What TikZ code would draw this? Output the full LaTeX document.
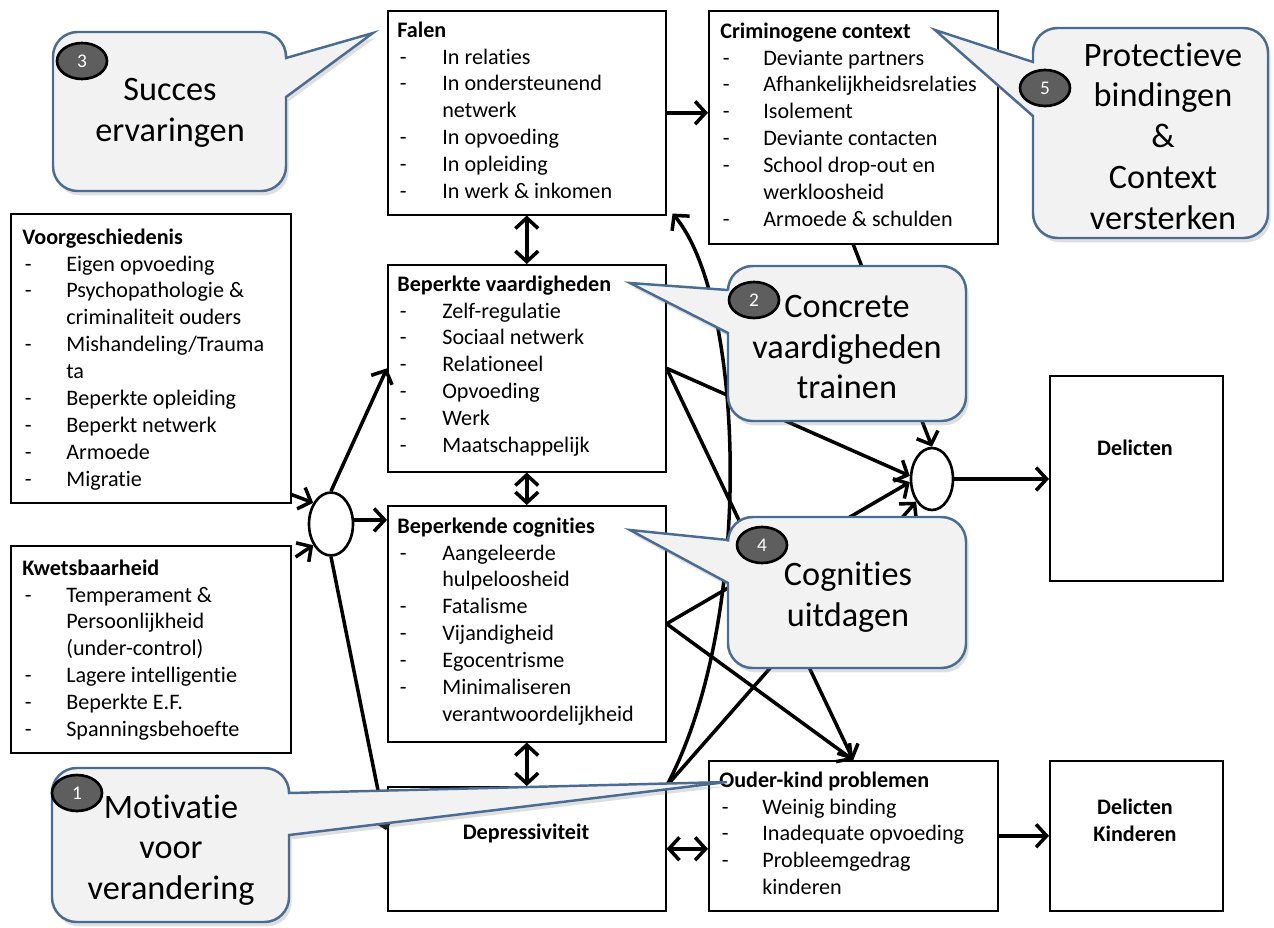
\documentclass[tikz,border=0pt]{standalone}
\usepackage{fontspec}
\setmainfont{Carlito}[Ligatures={NoCommon,NoRequired,NoContextual}]
\usetikzlibrary{arrows.meta,shapes.geometric,shadows,calc}

\definecolor{ballonrand}{HTML}{4A6C94}
\definecolor{ballongrijs}{HTML}{F2F2F2}
\definecolor{nummergrijs}{HTML}{5E5E5E}

\newcommand{\kop}[1]{\multicolumn{2}{@{}l@{}}{\bfseries #1}}
\newcommand{\streep}{\hspace*{1.5pt}-}

\tikzset{
  blok/.style={draw, line width=0.9pt, anchor=north west, inner sep=0pt},
  lijst/.style={anchor=north west, inner sep=0pt, font=\fontsize{12.6}{15.3}\selectfont},
  vet/.style={font=\fontsize{12.6}{15.3}\selectfont\bfseries, align=center, inner sep=0pt},
  kring/.style={draw, ellipse, line width=1.5pt, fill=white, inner sep=0pt},
  pijl/.style={line width=2pt, -{Straight Barb[length=6pt,width=13pt]}},
  dubbel/.style={line width=2pt, {Straight Barb[length=6pt,width=13pt]}-{Straight Barb[length=6pt,width=13pt]}},
  ballon/.style={draw=ballonrand, fill=ballongrijs, line width=1.4pt,
    drop shadow={opacity=0.25, shadow xshift=1.5pt, shadow yshift=-2.5pt}},
  ballontekst/.style={align=center, inner sep=0pt, font=\fontsize{19.5}{23.2}\selectfont},
  nummer/.style={draw, ellipse, line width=1.5pt, fill=nummergrijs, text=white,
    minimum width=1cm, minimum height=0.72cm, inner sep=0pt, font=\fontsize{11}{13}\selectfont},
}

\begin{document}
\begin{tikzpicture}[x=0.02cm, y=-0.02cm]
\useasboundingbox (0,0) rectangle (1274,927);

% blokken
\node[blok, minimum width=5.56cm, minimum height=4.08cm] (falen) at (387,10) {};
\node[lijst] (falentekst) at ($(falen.north west)+(10,8)$) {\begin{tabular}{@{}p{0.9cm}@{}l@{}}
\kop{Falen}\\
\streep & In relaties\\
\streep & In ondersteunend\\
 & netwerk\\
\streep & In opvoeding\\
\streep & In opleiding\\
\streep & In werk \& inkomen
\end{tabular}};

\node[blok, minimum width=5.78cm, minimum height=4.66cm] (crim) at (708,10) {};
\node[lijst] (crimtekst) at ($(crim.north west)+(12,9)$) {\begin{tabular}{@{}p{0.86cm}@{}l@{}}
\kop{Criminogene context}\\
\streep & Deviante partners\\
\streep & Afhankelijkheidsrelaties\\
\streep & Isolement\\
\streep & Deviante contacten\\
\streep & School drop-out en\\
 & werkloosheid\\
\streep & Armoede \& schulden
\end{tabular}};

\node[blok, minimum width=5.6cm, minimum height=5.78cm] (voorg) at (10,213) {};
\node[lijst] (voorgtekst) at ($(voorg.north west)+(12,12)$) {\begin{tabular}{@{}p{0.88cm}@{}l@{}}
\kop{Voorgeschiedenis}\\
\streep & Eigen opvoeding\\
\streep & Psychopathologie \&\\
 & criminaliteit ouders\\
\streep & Mishandeling/Trauma\\
 & ta\\
\streep & Beperkte opleiding\\
\streep & Beperkt netwerk\\
\streep & Armoede\\
\streep & Migratie
\end{tabular}};

\node[blok, minimum width=5.56cm, minimum height=4.14cm] (vaard) at (387,264) {};
\node[lijst] (vaardtekst) at ($(vaard.north west)+(10,8)$) {\begin{tabular}{@{}p{0.9cm}@{}l@{}}
\kop{Beperkte vaardigheden}\\
\streep & Zelf-regulatie\\
\streep & Sociaal netwerk\\
\streep & Relationeel\\
\streep & Opvoeding\\
\streep & Werk\\
\streep & Maatschappelijk
\end{tabular}};

\node[blok, minimum width=5.56cm, minimum height=4.72cm] (cogn) at (387,505) {};
\node[lijst] (cogntekst) at ($(cogn.north west)+(10,9)$) {\begin{tabular}{@{}p{0.9cm}@{}l@{}}
\kop{Beperkende cognities}\\
\streep & Aangeleerde\\
 & hulpeloosheid\\
\streep & Fatalisme\\
\streep & Vijandigheid\\
\streep & Egocentrisme\\
\streep & Minimaliseren\\
 & verantwoordelijkheid
\end{tabular}};

\node[blok, minimum width=5.6cm, minimum height=4.14cm] (kwets) at (10,545) {};
\node[lijst] (kwetstekst) at ($(kwets.north west)+(12,11)$) {\begin{tabular}{@{}p{0.88cm}@{}l@{}}
\kop{Kwetsbaarheid}\\
\streep & Temperament \&\\
 & Persoonlijkheid\\
 & (under-control)\\
\streep & Lagere intelligentie\\
\streep & Beperkte E.F.\\
\streep & Spanningsbehoefte
\end{tabular}};

\node[blok, minimum width=5.56cm, minimum height=2.48cm] (depr) at (387,786) {};
\node[vet] (deprtekst) at (526,833) {Depressiviteit};

\node[blok, minimum width=5.78cm, minimum height=3cm] (ouder) at (708,760) {};
\node[lijst] (oudertekst) at ($(ouder.north west)+(11,8)$) {\begin{tabular}{@{}p{0.86cm}@{}l@{}}
\kop{Ouder-kind problemen}\\
\streep & Weinig binding\\
\streep & Inadequate opvoeding\\
\streep & Probleemgedrag\\
 & kinderen
\end{tabular}};

\node[blok, minimum width=3.46cm, minimum height=4.1cm] (delict) at (1049,375) {};
\node[vet] (delicttekst) at (1135,448) {Delicten};

\node[blok, minimum width=3.46cm, minimum height=3cm] (delkind) at (1049,760) {};
\node[vet] (delkindtekst) at (1135,820) {Delicten\\Kinderen};

% knooppunten
\node[kring, minimum width=0.88cm, minimum height=1.26cm] (links) at (331,524) {};
\node[kring, minimum width=0.84cm, minimum height=1.24cm] (rechts) at (932,479) {};

% pijlen
\draw[pijl] ($(voorg.south east)+(0,-9)$) -- (links.130);
\draw[pijl] ($(kwets.north east)+(4,12)$) -- (links.230);
\draw[pijl] (links.10) -- (links.10 -| cogn.west);
\draw[pijl] (links.north) -- (vaard.west);
\draw[pijl] (links.south) -- ($(depr.north west)+(-1,44)$);
\draw[dubbel] (falen.south) -- (vaard.north);
\draw[dubbel] (vaard.south) -- (cogn.north);
\draw[dubbel] (cogn.south) -- (depr.north);
\draw[dubbel] (depr.east) -- (depr.east -| ouder.west);
\draw[pijl] (falen.east) -- (falen.east -| crim.west);
\draw[pijl] (crim.south) -- (rechts.north);
\draw[pijl] (vaard.east) -- (rechts.172);
\draw[pijl] (cogn.east) -- (rechts.188);
\draw[pijl] (depr.north east) -- (rechts.235);
\draw[pijl] (vaard.east) -- (ouder.north);
\draw[pijl] (cogn.east) -- (ouder.north);
\draw[pijl] (depr.north east) .. controls (755,620) and (745,300) .. ($(falen.south east)+(6,-2)$);
\draw[pijl] (rechts.east) -- (rechts.east -| delict.west);
\draw[pijl] (ouder.east) -- (ouder.east -| delkind.west);

% ballonnen
\path[ballon] (373,33) -- (286,58) [rounded corners=14pt] -- (286,32) -- (53,32) -- (53,191) -- (286,191) [sharp corners] -- (286,97) -- cycle;
\node[ballontekst] (b3) at (170,113) {Succes\\ervaringen};
\node[nummer] (n3) at (82,61) {3};

\path[ballon] (935,30) -- (1033,62) [rounded corners=14pt] -- (1033,28) -- (1268,28) -- (1268,238) -- (1033,238) [sharp corners] -- (1033,116) -- cycle;
\node[ballontekst] (b5) at (1163,136) {Protectieve\\bindingen\\\&\\Context\\versterken};
\node[nummer] (n5) at (1045,88) {5};

\path[ballon] (630,283) -- (728,290) [rounded corners=14pt] -- (728,266) -- (966,266) -- (966,421) -- (728,421) [sharp corners] -- (728,333) -- cycle;
\node[ballontekst] (b2) at (847,347) {Concrete\\vaardigheden\\trainen};
\node[nummer] (n2) at (754,300) {2};

\path[ballon] (630,530) -- (728,540) [rounded corners=14pt] -- (728,517) -- (966,517) -- (966,668) -- (728,668) [sharp corners] -- (728,583) -- cycle;
\node[ballontekst] (b4) at (848,597) {Cognities\\uitdagen};
\node[nummer] (n4) at (762,545) {4};

\path[ballon] (727,782) -- (289,793) [rounded corners=14pt] -- (289,768) -- (52,768) -- (52,922) -- (289,922) [sharp corners] -- (289,835) -- cycle;
\node[ballontekst] (b1) at (171,850) {Motivatie\\voor\\verandering};
\node[nummer] (n1) at (77,793) {1};
\end{tikzpicture}
\end{document}
